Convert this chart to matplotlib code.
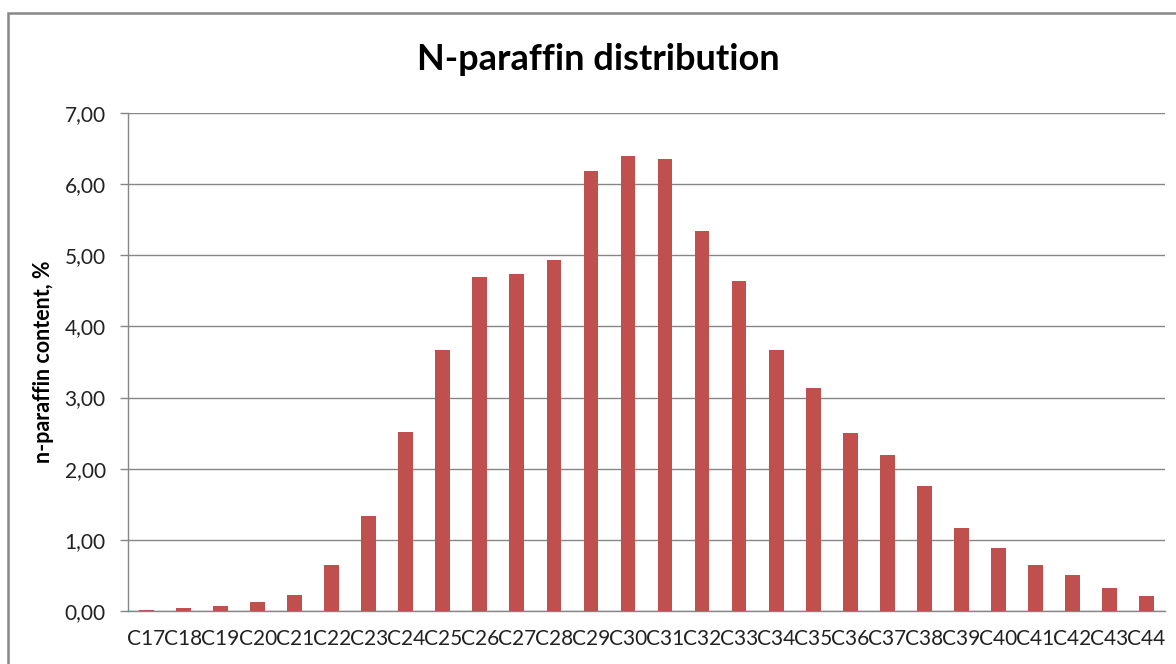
import matplotlib.pyplot as plt
from matplotlib.patches import Rectangle

### Data ###
carbons = ['C17', 'C18', 'C19', 'C20', 'C21', 'C22', 'C23', 'C24', 'C25', 'C26',
           'C27', 'C28', 'C29', 'C30', 'C31', 'C32', 'C33', 'C34', 'C35', 'C36',
           'C37', 'C38', 'C39', 'C40', 'C41', 'C42', 'C43', 'C44']
content = [0.02, 0.04, 0.07, 0.12, 0.23, 0.65, 1.33, 2.52, 3.67, 4.70,
           4.73, 4.94, 6.18, 6.39, 6.35, 5.34, 4.64, 3.67, 3.14, 2.50,
           2.19, 1.76, 1.17, 0.88, 0.65, 0.50, 0.32, 0.21]
yticks = [0, 1, 2, 3, 4, 5, 6, 7]

### Style ###
bar_color = '#C0504D'
grid_color = '#868686'
plt.rcParams['font.family'] = ['Lato', 'DejaVu Sans']

fig = plt.figure(figsize=(11.76, 6.64), dpi=100)
ax = fig.add_axes([128 / 1176, 53 / 664, 1037 / 1176, 498 / 664])

# outer chart frame (runs off the right/bottom edge like the screenshot)
fig.patches.append(Rectangle((8 / 1176, -0.1), 1.2, (664 - 13) / 664 + 0.1,
                             transform=fig.transFigure, fill=False,
                             edgecolor='#878787', linewidth=1.8))

x = range(len(carbons))
ax.bar(x, content, width=0.4, color=bar_color, zorder=3)

ax.set_xlim(-0.5, len(carbons) - 0.5)
ax.set_ylim(0, 7)
ax.set_xticks(list(x))
ax.set_xticklabels(carbons, fontsize=15, color='#222222')
ax.set_yticks(yticks)
ax.set_yticklabels(['%d,00' % v for v in yticks], fontsize=15, color='#222222')
ax.tick_params(axis='x', length=0, pad=13)
ax.tick_params(axis='y', length=6, width=1, color=grid_color, pad=10)

ax.grid(axis='y', color=grid_color, linewidth=1, zorder=0)
for s in ['top', 'right']:
    ax.spines[s].set_visible(False)
for s in ['left', 'bottom']:
    ax.spines[s].set_color(grid_color)
    ax.spines[s].set_linewidth(1)

ax.set_ylabel('n-paraffin content, %', fontsize=15.5, fontweight='bold', labelpad=8)
fig.text(598 / 1176, 1 - 60 / 664, 'N-paraffin distribution', ha='center', va='center',
         fontsize=26, fontweight='bold')

fig.savefig('out.png', dpi=100)
